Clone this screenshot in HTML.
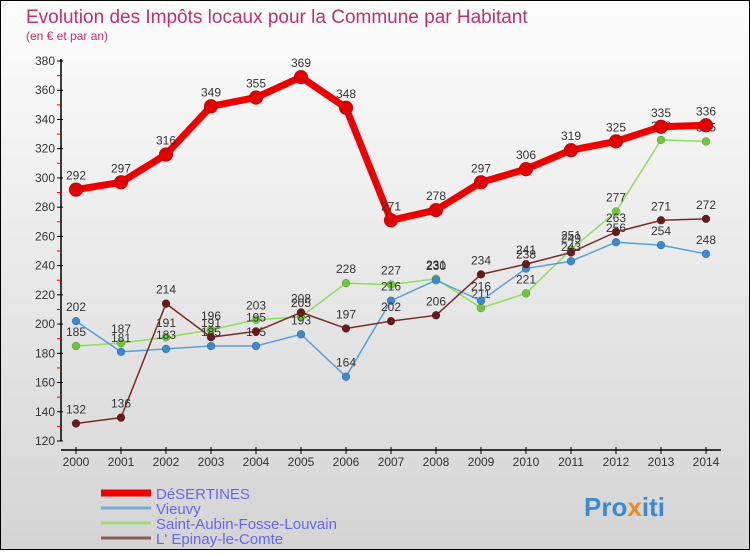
<!DOCTYPE html>
<html><head><meta charset="utf-8"><style>
body{margin:0;width:750px;height:550px;overflow:hidden;font-family:"Liberation Sans",sans-serif}
#wrap{position:relative;width:748px;height:548px;border:1px solid #000;background:linear-gradient(#fdfdfd,#d4d4d4)}
</style></head><body>
<div id="wrap">
<svg id="chart" width="748" height="548">
<text x="25" y="22" font-size="19" fill="#c0306a">Evolution des Impôts locaux pour la Commune par Habitant</text>
<text x="25" y="39" font-size="12" fill="#c0306a">(en € et par an)</text>
<g id="axes"></g><g id="series"></g><g id="legend"></g>
<text x="583" y="515" font-size="26" font-weight="bold" fill="#3a8ad6">Pro<tspan fill="#f28a1a">x</tspan><tspan fill="#3a8ad6">iti</tspan></text>
</svg></div>
<script>
const years=[2000,2001,2002,2003,2004,2005,2006,2007,2008,2009,2010,2011,2012,2013,2014];
const desertines=[292,297,316,349,355,369,348,271,278,297,306,319,325,335,336];
const vieuvy=[202,181,183,185,185,193,164,216,230,216,238,243,256,254,248];
const saintAubin=[185,187,191,196,203,205,228,227,231,211,221,251,277,326,325];
const epinay=[132,136,214,191,195,208,197,202,206,234,241,249,263,271,272];
const yTicks=[120,140,160,180,200,220,240,260,280,300,320,340,360,380];
const NS="http://www.w3.org/2000/svg";
const x=i=>75+i*45, y=v=>440-(v-120)*380/260;
function mk(t,a,p){const e=document.createElementNS(NS,t);for(const k in a)e.setAttribute(k,a[k]);p.appendChild(e);return e;}
const ax=document.getElementById('axes');
let l=mk('line',{x1:60,y1:58,x2:60,y2:440,stroke:'#000','stroke-width':1.5},ax);


l=mk('line',{x1:60,y1:449,x2:720,y2:449,stroke:'#000','stroke-width':1.5},ax);


yTicks.forEach(v=>{mk('line',{x1:56,y1:y(v),x2:62,y2:y(v),stroke:'#000'},ax);
 if(v<380)mk('line',{x1:56,y1:y(v+10),x2:60,y2:y(v+10),stroke:'#e00'},ax);
 const t=mk('text',{x:54,y:y(v)+4,'text-anchor':'end','font-size':12,fill:'#333'},ax);t.textContent=v;
 
 });
years.forEach((yr,i)=>{mk('line',{x1:x(i),y1:446,x2:x(i),y2:453,stroke:'#000'},ax);
 const t=mk('text',{x:x(i),y:465,'text-anchor':'middle','font-size':12,fill:'#333'},ax);t.textContent=yr;
 
 });
const S=[[saintAubin,'#8ee05a','#6cc83a',1.5,4,'saint-aubin'],[vieuvy,'#5aa0d8','#3a8ad0',1.5,4,'vieuvy'],[epinay,'#7a2a2a','#6a1a1a',1.5,4,'epinay'],[desertines,'#ee0000','#e00000',7,7,'desertines']];
const sg=document.getElementById('series');
S.forEach(([d,c,f,w,r,n])=>{const g=mk('g',{},sg);
 
 
 mk('polyline',{points:d.map((v,i)=>x(i)+','+y(v)).join(' '),fill:'none',stroke:c,'stroke-width':w,'stroke-linejoin':'round'},g);
 d.forEach((v,i)=>{const p=mk('circle',{cx:x(i),cy:y(v),r:r,fill:f,stroke:'rgba(0,0,0,0.3)','stroke-width':0.5},g);
  
  
  const t=mk('text',{x:x(i),y:y(v)-10,'text-anchor':'middle','font-size':12,fill:'#333'},g);t.textContent=v;
  
  });});
const lg=document.getElementById('legend');
[['DéSERTINES','#ee0000',7],['Vieuvy','#7aaad0',3],['Saint-Aubin-Fosse-Louvain','#a0d880',3],["L' Epinay-le-Comte",'#8a5a5a',3]].forEach(([n,c,w],i)=>{
 const yy=492+i*15;const g=mk('g',{},lg);
 
 
 mk('line',{x1:100,y1:yy,x2:150,y2:yy,stroke:c,'stroke-width':w},g);
 const t=mk('text',{x:155,y:yy+6,'font-size':15,fill:'#6666ee'},g);t.textContent=n;});
</script></body></html>
